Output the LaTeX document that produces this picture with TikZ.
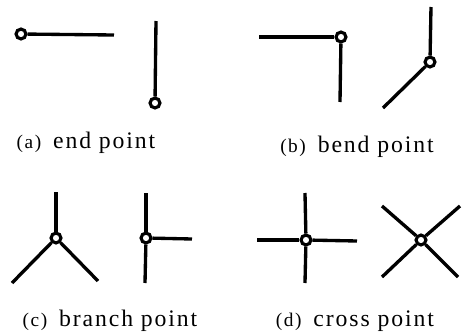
\documentclass[tikz,border=0pt]{standalone}
\usepackage{fontspec}
\setmainfont{Liberation Serif}
\usetikzlibrary{positioning}
\tikzset{
	keypoint/.style={circle, draw, line width=1.8pt, fill=white, inner sep=0pt, minimum size=5.6pt}
}
\tikzset{
	stroke/.style={line width=1.9pt}
}
\tikzset{
	captiontext/.style={font=\fontsize{13.5}{15}\selectfont\addfontfeatures{LetterSpace=8}}
}
\newcommand{\tag}[1]{{\fontsize{11}{12}\selectfont(#1)}\hspace{0.5em}}

\begin{document}
\begin{tikzpicture}[x=0.02cm, y=-0.02cm]

	\useasboundingbox (0,0) rectangle (468,332);

	% (a) end point
	\begin{scope}
		\node[keypoint] (a1) at (21,34) {};
		\coordinate (a1e) at (114,35);
		\draw[stroke] (a1) -- (a1e);

		\node[keypoint] (a2) at (155,103) {};
		\coordinate (a2e) at (156,21);
		\draw[stroke] (a2) -- (a2e);

		\node[captiontext] (la) at (86,143) {\tag{a}end point};
	\end{scope}

	% (b) bend point
	\begin{scope}
		\node[keypoint] (b1) at (341,37) {};
		\coordinate (b1w) at (259,37);
		\coordinate (b1s) at (340,102);
		\draw[stroke] (b1) -- (b1w);
		\draw[stroke] (b1) -- (b1s);

		\node[keypoint] (b2) at (430,62) {};
		\coordinate (b2n) at (431,7);
		\coordinate (b2sw) at (383,108);
		\draw[stroke] (b2) -- (b2n);
		\draw[stroke] (b2) -- (b2sw);

		\node[captiontext] (lb) at (357,147) {\tag{b}bend point};
	\end{scope}

	% (c) branch point
	\begin{scope}
		\node[keypoint] (c1) at (56,238) {};
		\coordinate (c1n) at (56,192);
		\coordinate (c1sw) at (12,283);
		\coordinate (c1se) at (98,281);
		\draw[stroke] (c1) -- (c1n);
		\draw[stroke] (c1) -- (c1sw);
		\draw[stroke] (c1) -- (c1se);

		\node[keypoint] (c2) at (146,238) {};
		\coordinate (c2n) at (146,193);
		\coordinate (c2s) at (145,283);
		\coordinate (c2e) at (192,239);
		\draw[stroke] (c2) -- (c2n);
		\draw[stroke] (c2) -- (c2s);
		\draw[stroke] (c2) -- (c2e);

		\node[captiontext] (lc) at (110,321) {\tag{c}branch point};
	\end{scope}

	% (d) cross point
	\begin{scope}
		\node[keypoint] (d1) at (306,240) {};
		\coordinate (d1n) at (305,193);
		\coordinate (d1s) at (305,283);
		\coordinate (d1w) at (257,240);
		\coordinate (d1e) at (357,241);
		\draw[stroke] (d1) -- (d1n);
		\draw[stroke] (d1) -- (d1s);
		\draw[stroke] (d1) -- (d1w);
		\draw[stroke] (d1) -- (d1e);

		\node[keypoint] (d2) at (421,240) {};
		\coordinate (d2nw) at (382,206);
		\coordinate (d2ne) at (460,206);
		\coordinate (d2sw) at (382,277);
		\coordinate (d2se) at (458,277);
		\draw[stroke] (d2) -- (d2nw);
		\draw[stroke] (d2) -- (d2ne);
		\draw[stroke] (d2) -- (d2sw);
		\draw[stroke] (d2) -- (d2se);

		\node[captiontext] (ld) at (355,321) {\tag{d}cross point};
	\end{scope}

\end{tikzpicture}
\end{document}
